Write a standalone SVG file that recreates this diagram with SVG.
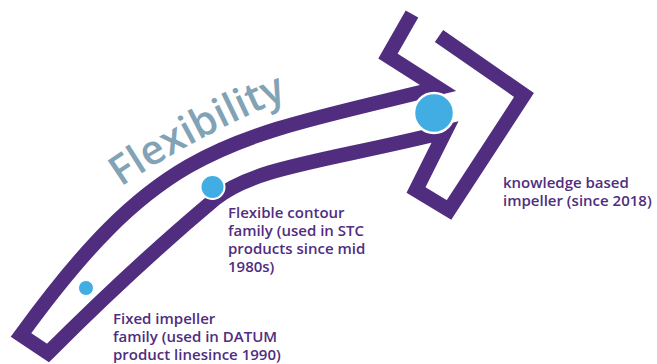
<svg xmlns="http://www.w3.org/2000/svg" width="657" height="364" viewBox="0 0 657 364">
  <style>
    .outline { fill: #ffffff; stroke: #502D7F; stroke-width: 14.5; stroke-linejoin: miter; stroke-miterlimit: 10; stroke-linecap: butt; }
    .dot { fill: #41ADE2; stroke: #ffffff; }
    .label { font-family: "Open Sans", "Liberation Sans", sans-serif; font-weight: 600; font-size: 15px; fill: #502D7F; }
    .title { font-family: "Open Sans", "Liberation Sans", sans-serif; font-weight: 600; font-size: 41px; fill: #82A3B5; }
  </style>
  <defs>
    <path id="titlePath" d="M121,187 Q195,136 302,92"/>
  </defs>
  <rect width="657" height="364" fill="#ffffff"/>

  <g id="connectors">
    <path id="arrow" class="outline" d="M439,36 L524,95 L449,210 L416,190 L445,132 C328.6,160.8 253.4,167 215,199 C160,245 100,301 48,353 L21,335 C161,142 226,140 438,88 L388,56 L412,14"/>
  </g>

  <g id="title">
    <text class="title"><textPath href="#titlePath">Flexibility</textPath></text>
  </g>

  <g id="node-fixed">
    <circle class="dot" cx="86" cy="288" r="7.5" stroke-width="1"/>
    <text class="label" x="113" y="324">Fixed impeller</text>
    <text class="label" x="113" y="342">family (used in DATUM</text>
    <text class="label" x="113" y="360">product linesince 1990)</text>
  </g>

  <g id="node-flexible">
    <circle class="dot" cx="212.5" cy="187" r="12" stroke-width="2"/>
    <text class="label" x="228" y="218">Flexible contour</text>
    <text class="label" x="228" y="236">family (used in STC</text>
    <text class="label" x="228" y="254">products since mid</text>
    <text class="label" x="228" y="272">1980s)</text>
  </g>

  <g id="node-knowledge">
    <circle class="dot" cx="434" cy="113" r="20" stroke-width="2.5"/>
    <text class="label" x="503" y="188">knowledge based</text>
    <text class="label" x="503" y="206">impeller (since 2018)</text>
  </g>
</svg>
